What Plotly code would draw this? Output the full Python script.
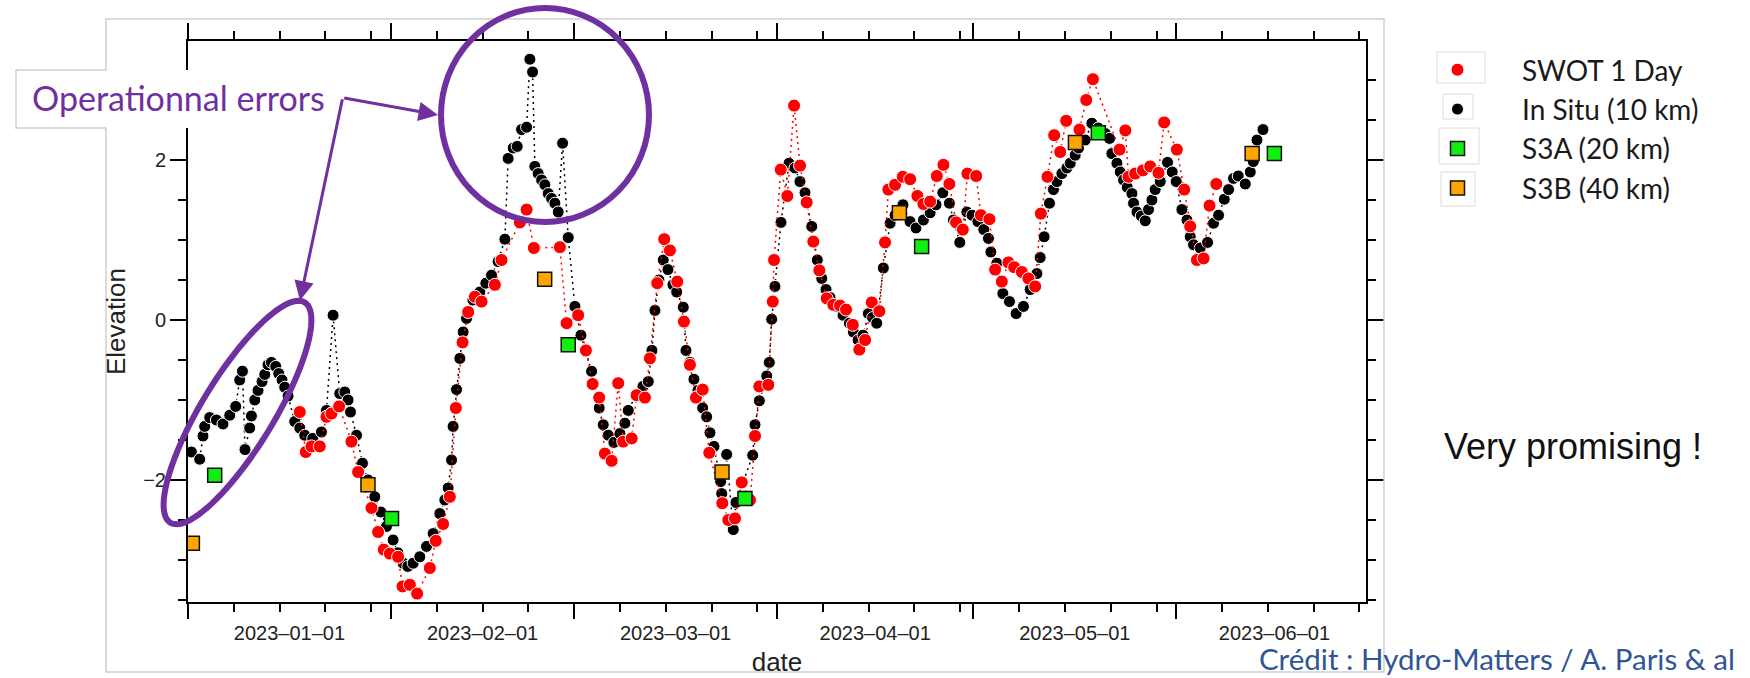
import numpy as np
import pandas as pd
import plotly.graph_objects as go

# ---------------- data (days since 2023-01-01, elevation) ----------------
insitu_day = [
    0.52, 1.79, 2.29, 2.55, 3.32, 4.34, 5.35, 6.38, 7.29, 7.90,
    8.32, 8.71, 9.43, 9.69, 10.20, 10.70, 11.31, 11.73, 12.23, 12.75,
    13.41, 13.87, 14.37, 14.78, 15.29, 16.31, 17.08, 17.84, 19.06, 20.39,
    21.16, 22.17, 23.19, 23.96, 24.46, 24.83, 25.75, 26.66, 27.52, 28.54,
    29.46, 30.33, 31.34, 32.06, 32.87, 33.59, 34.40, 35.42, 36.45, 37.46,
    38.48, 39.24, 39.75, 40.27, 40.51, 41.03, 41.54, 42.04, 42.56, 43.53,
    44.60, 45.51, 46.38, 47.39, 48.42, 48.92, 49.69, 50.30, 50.97, 51.74,
    52.24, 52.65, 53.00, 53.51, 54.03, 54.53, 55.04, 55.56, 56.06, 56.57,
    57.24, 58.10, 59.12, 60.04, 61.67, 62.83, 63.45, 64.21, 65.08, 66.00,
    66.76, 67.27, 68.45, 69.52, 70.33, 70.89, 71.35, 71.96, 72.62, 73.34,
    74.10, 74.67, 75.68, 76.09, 76.70, 77.31, 77.92, 78.64, 79.25, 79.76,
    80.37, 81.39, 81.55, 82.31, 83.32, 83.73, 86.29, 86.64, 87.30, 88.43,
    88.82, 89.19, 89.69, 90.61, 91.83, 92.75, 93.51, 94.28, 95.31, 96.16,
    96.84, 97.49, 98.10, 99.13, 100.09, 101.06, 101.67, 102.39, 103.15, 103.96,
    104.60, 105.24, 106.25, 107.28, 108.04, 109.25, 110.33, 111.24, 112.37, 113.40,
    114.30, 115.34, 116.34, 116.96, 117.93, 119.01, 119.80, 120.70, 121.60, 122.31,
    122.68, 123.59, 124.51, 125.52, 126.54, 127.66, 128.68, 129.71, 130.21, 130.82,
    131.63, 132.24, 132.76, 133.53, 134.29, 134.80, 135.56, 136.07, 137.09, 138.11,
    139.08, 140.15, 140.81, 141.17, 141.94, 142.44, 142.95, 143.52, 144.23, 144.48,
    145.00, 145.66, 146.27, 146.77, 147.29, 147.79, 148.56, 149.67, 150.39, 151.00,
    151.87, 152.64, 153.14, 153.65, 154.67, 155.79, 156.70, 157.47, 158.34, 159.00,
    159.76, 160.48, 161.55, 162.32, 162.78, 163.34, 164.26,
]
insitu_elev = [
    -1.65, -1.74, -1.45, -1.33, -1.22, -1.25, -1.30, -1.19, -1.08, -0.75,
    -0.64, -1.62, -1.35, -1.20, -1.00, -0.88, -0.77, -0.68, -0.56, -0.53,
    -0.58, -0.67, -0.75, -0.84, -0.95, -1.27, -1.35, -1.44, -1.48, -1.40,
    -1.13, 0.06, -0.92, -0.90, -1.00, -1.15, -1.44, -1.79, -2.00, -2.21,
    -2.40, -2.58, -2.75, -2.91, -3.04, -3.08, -3.04, -2.96, -2.83, -2.67,
    -2.42, -2.25, -2.10, -1.75, -1.33, -0.87, -0.48, -0.15, 0.02, 0.25,
    0.35, 0.46, 0.56, 0.73, 1.01, 2.02, 2.15, 2.17, 2.38, 2.41,
    3.26, 3.10, 1.92, 1.83, 1.75, 1.69, 1.58, 1.52, 1.46, 1.35,
    2.21, 1.03, 0.17, -0.19, -0.64, -1.10, -1.31, -1.44, -1.53, -1.42,
    -1.29, -1.13, -0.94, -0.83, -0.77, -0.38, 0.12, 0.50, 0.75, 0.63,
    0.44, 0.35, 0.16, -0.38, -0.53, -0.74, -0.88, -1.10, -1.21, -1.41,
    -1.58, -2.02, -2.17, -1.68, -2.62, -2.28, -1.69, -1.31, -1.01, -0.70,
    -0.53, 0.01, 0.42, 1.22, 1.96, 1.90, 1.73, 1.59, 1.17, 0.75,
    0.52, 0.38, 0.28, 0.17, 0.06, -0.04, -0.15, -0.25, -0.19, 0.08,
    0.03, -0.04, 0.65, 1.21, 1.31, 1.44, 1.23, 1.15, 1.25, 1.34,
    1.44, 1.59, 1.46, 1.25, 0.97, 1.35, 1.31, 1.23, 1.13, 1.02,
    0.85, 0.71, 0.33, 0.23, 0.08, 0.17, 0.38, 0.58, 0.78, 1.04,
    1.46, 1.63, 1.73, 1.83, 1.90, 1.96, 2.06, 2.15, 2.25, 2.46,
    2.40, 2.33, 2.27, 2.08, 1.96, 1.85, 1.75, 1.66, 1.58, 1.46,
    1.35, 1.30, 1.24, 1.38, 1.50, 1.63, 1.73, 1.97, 1.85, 1.73,
    1.38, 1.25, 1.04, 0.94, 0.90, 0.97, 1.21, 1.31, 1.51, 1.63,
    1.77, 1.80, 1.70, 1.85, 1.98, 2.25, 2.38,
]

swot_day = [
    17.08, 18.00, 18.87, 20.13, 21.16, 21.92, 23.09, 24.98, 25.99, 28.04,
    29.05, 29.92, 30.84, 32.10, 32.78, 33.90, 35.01, 36.95, 37.87, 38.98,
    40.01, 40.93, 41.95, 42.81, 43.83, 44.86, 46.89, 47.91, 50.71, 51.74,
    52.85, 56.83, 57.85, 59.62, 60.80, 61.82, 62.83, 63.70, 64.73, 65.74,
    66.50, 67.79, 68.55, 69.82, 70.58, 71.70, 72.77, 73.64, 74.76, 75.78,
    76.70, 77.62, 78.64, 79.65, 81.64, 82.56, 83.58, 84.61, 85.88, 86.64,
    87.30, 88.67, 89.35, 89.55, 90.57, 91.58, 92.61, 93.52, 94.54, 95.55,
    96.47, 97.60, 98.61, 99.63, 100.55, 101.58, 102.58, 103.46, 104.48, 105.64,
    106.51, 107.02, 108.04, 109.22, 110.34, 111.45, 112.37, 113.40, 114.42, 115.43,
    116.34, 117.37, 118.39, 119.10, 120.43, 121.15, 122.46, 123.33, 124.35, 125.36,
    126.24, 127.41, 128.42, 129.45, 130.32, 131.33, 132.35, 133.27, 134.19, 136.22,
    137.25, 138.27, 142.34, 143.23, 143.71, 144.73, 145.91, 147.02, 148.29, 149.16,
    151.10, 152.22, 153.14, 154.17, 155.18, 156.09, 157.12,
]
swot_elev = [
    -1.15, -1.65, -1.58, -1.58, -1.21, -1.17, -1.08, -1.52, -1.90, -2.35,
    -2.65, -2.87, -2.92, -2.96, -3.33, -3.31, -3.42, -3.10, -2.76, -2.55,
    -2.21, -1.10, -0.28, 0.10, 0.29, 0.23, 0.44, 0.75, 1.22, 1.38,
    0.90, 0.91, -0.04, 0.06, -0.38, -0.80, -0.97, -1.67, -1.76, -0.79,
    -1.52, -1.48, -0.94, -0.97, -0.48, 0.46, 1.01, 0.87, 0.48, -0.02,
    -0.56, -0.97, -0.87, -1.66, -2.29, -2.50, -2.48, -2.03, -2.25, -1.45,
    -0.83, -0.81, 0.23, 0.75, 1.88, 1.55, 2.68, 1.93, 1.47, 0.98,
    0.62, 0.27, 0.19, 0.18, 0.13, -0.06, -0.37, -0.25, 0.22, 0.11,
    0.97, 1.63, 1.69, 1.79, 1.76, 1.55, 1.45, 1.48, 1.80, 1.94,
    1.70, 1.22, 1.13, 1.83, 1.80, 1.31, 1.26, 0.63, 0.48, 0.72,
    0.66, 0.60, 0.52, 0.42, 1.33, 1.79, 2.31, 2.10, 2.49, 2.38,
    2.75, 3.01, 2.13, 2.37, 1.79, 1.83, 1.87, 1.92, 1.84, 2.47,
    2.13, 1.63, 1.17, 0.75, 0.77, 1.43, 1.70,
]

s3a_day = [4.08, 31.1, 58.1, 85.1, 112.1, 139.1, 166.0]
s3a_elev = [-1.94, -2.48, -0.31, -2.23, 0.92, 2.34, 2.08]

s3b_day = [0.67, 27.5, 54.5, 81.6, 108.7, 135.6, 162.6]
s3b_elev = [-2.79, -2.06, 0.51, -1.90, 1.34, 2.22, 2.08]

tick_labels = ["2023–01–01", "2023–02–01", "2023–03–01",
               "2023–04–01", "2023–05–01", "2023–06–01"]

# ---------------- helpers ----------------
START = pd.Timestamp("2023-01-01")


def to_dates(days):
    return [START + pd.Timedelta(days=float(d)) for d in days]


W, H = 1750, 678
PL, PR, PT, PB = 188, 1366, 41, 602


def px(xp):
    return (xp - PL) / (PR - PL)


def py(yp):
    return (PB - yp) / (PB - PT)


X_RANGE = [START, pd.Timestamp("2023-06-30")]
Y_RANGE = [-3.525, 3.4875]

month_starts = list(pd.date_range("2023-01-01", "2023-07-01", freq="MS"))
mid_month = [month_starts[i] + (month_starts[i + 1] - month_starts[i]) / 2 for i in range(6)]
month_ticks = month_starts[:6]
weekly = []
for m in range(1, 7):
    for d in (8, 15, 22, 29):
        try:
            weekly.append(pd.Timestamp(2023, m, d))
        except ValueError:
            pass

PURPLE = "#7030A0"
DOT = "2px,4px"

fig = go.Figure()

# In situ
fig.add_trace(go.Scatter(x=to_dates(insitu_day), y=insitu_elev, mode="lines",
                         line=dict(color="black", width=1.5, dash=DOT),
                         showlegend=False, hoverinfo="skip"))
fig.add_trace(go.Scatter(x=to_dates(insitu_day), y=insitu_elev, mode="markers",
                         name="In Situ (10 km)", legendrank=2,
                         marker=dict(color="black", size=12, line=dict(color="white", width=1))))
# SWOT
fig.add_trace(go.Scatter(x=to_dates(swot_day), y=swot_elev, mode="lines",
                         line=dict(color="#ff0000", width=1.5, dash=DOT),
                         showlegend=False, hoverinfo="skip"))
fig.add_trace(go.Scatter(x=to_dates(swot_day), y=swot_elev, mode="markers",
                         name="SWOT 1 Day", legendrank=1,
                         marker=dict(color="#ff0000", size=13, line=dict(color="white", width=1))))
# S3A / S3B
fig.add_trace(go.Scatter(x=to_dates(s3a_day), y=s3a_elev, mode="markers",
                         name="S3A (20 km)", legendrank=3,
                         marker=dict(symbol="square", color="#11ee11", size=14,
                                     line=dict(color="#111", width=1.5))))
fig.add_trace(go.Scatter(x=to_dates(s3b_day), y=s3b_elev, mode="markers",
                         name="S3B (40 km)", legendrank=4,
                         marker=dict(symbol="square", color="#ffa500", size=14,
                                     line=dict(color="#111", width=1.5))))
# empty traces to register the mirror axes
fig.add_trace(go.Scatter(x=[], y=[], xaxis="x2", yaxis="y", showlegend=False))
fig.add_trace(go.Scatter(x=[], y=[], xaxis="x3", yaxis="y2", showlegend=False))

axis_common = dict(showgrid=False, zeroline=False, linecolor="black", linewidth=2)

fig.update_layout(
    width=W, height=H,
    paper_bgcolor="white", plot_bgcolor="white",
    margin=dict(l=PL, r=W - PR, t=PT, b=H - PB, autoexpand=False),
    font=dict(family="Liberation Sans, Arial, sans-serif", color="#222"),
    showlegend=True,
    xaxis=dict(type="date", range=X_RANGE, tickmode="array", tickvals=mid_month,
               ticktext=tick_labels, ticks="outside", ticklen=12,
               tickcolor="rgba(0,0,0,0)", tickfont=dict(size=20, color="#222"),
               showline=True, automargin=False,
               minor=dict(tickmode="array", tickvals=weekly, ticks="outside",
                          ticklen=8, tickwidth=1.5, tickcolor="black", showgrid=False),
               title=dict(text="date", font=dict(size=26, color="#222"), standoff=10),
               **axis_common),
    xaxis2=dict(type="date", overlaying="x", anchor="y", side="bottom", range=X_RANGE,
                tickmode="array", tickvals=month_ticks, ticks="outside", ticklen=16,
                tickwidth=2, tickcolor="black", showticklabels=False, showline=False,
                showgrid=False, zeroline=False),
    xaxis3=dict(type="date", overlaying="x", anchor="y2", side="top", range=X_RANGE,
                tickmode="array", tickvals=month_ticks, ticks="outside", ticklen=16,
                tickwidth=2, tickcolor="black", showticklabels=False, showline=True,
                minor=dict(tickmode="array", tickvals=weekly, ticks="outside",
                           ticklen=8, tickwidth=1.5, tickcolor="black", showgrid=False),
                **axis_common),
    yaxis=dict(range=Y_RANGE, tickmode="array", tickvals=[-2, 0, 2], ticks="outside",
               ticklen=16, tickwidth=2, tickcolor="black",
               tickfont=dict(size=20, color="#222"), showline=True, automargin=False,
               minor=dict(dtick=0.5, tick0=0, ticks="outside", ticklen=8,
                          tickwidth=1.5, tickcolor="black", showgrid=False),
               title=dict(text="Elevation", font=dict(size=26, color="#222"), standoff=10),
               **axis_common),
    yaxis2=dict(overlaying="y", anchor="x", side="right", range=Y_RANGE,
                tickmode="array", tickvals=[-2, 0, 2], ticks="outside", ticklen=16,
                tickwidth=2, tickcolor="black", showticklabels=False, showline=True,
                minor=dict(dtick=0.5, tick0=0, ticks="outside", ticklen=8,
                           tickwidth=1.5, tickcolor="black", showgrid=False),
                **axis_common),
    legend=dict(x=px(1393), y=py(45), xanchor="left", yanchor="top",
                font=dict(family="Lato, Liberation Sans, sans-serif", size=28, color="#1a1a1a"),
                bgcolor="rgba(0,0,0,0)", itemwidth=119, itemsizing="trace"),
)

# --------- decorations ---------
# tilted ellipse path
cx, cy, a, b, th = 237.5, 412.5, 129.0, 36.0, np.deg2rad(58.6)
pts = []
for t in np.linspace(0, 2 * np.pi, 97):
    X = cx + a * np.cos(t) * np.cos(th) - b * np.sin(t) * np.sin(th)
    Y = cy - (a * np.cos(t) * np.sin(th) + b * np.sin(t) * np.cos(th))
    pts.append((px(X), py(Y)))
ell_path = "M " + " L ".join(f"{x:.5f},{y:.5f}" for x, y in pts) + " Z"

border = [(106, 19), (1384, 19), (1384, 672), (106, 672), (106, 128),
          (16, 128), (16, 70), (106, 70)]
border_path = "M " + " L ".join(f"{px(x):.5f},{py(y):.5f}" for x, y in border) + " Z"

fig.add_shape(type="rect", xref="paper", yref="paper", x0=px(16), x1=px(335),
              y0=py(128), y1=py(70), fillcolor="white", line=dict(width=0), layer="above")
fig.add_shape(type="path", xref="paper", yref="paper", path=border_path,
              line=dict(color="#cfcfcf", width=1.5), layer="above")
fig.add_shape(type="circle", xref="paper", yref="paper", x0=px(441), x1=px(649),
              y0=py(222), y1=py(8), line=dict(color=PURPLE, width=6), layer="above")
fig.add_shape(type="path", xref="paper", yref="paper", path=ell_path,
              line=dict(color=PURPLE, width=6), layer="above")

# light frames around the legend symbols
for (x0, y0, x1, y1) in [(1437, 52, 1485, 83), (1443, 94, 1473, 119),
                         (1439, 128, 1479, 164), (1441, 172, 1475, 206)]:
    fig.add_shape(type="rect", xref="paper", yref="paper", x0=px(x0), x1=px(x1),
                  y0=py(y1), y1=py(y0), line=dict(color="#dcdcdc", width=1),
                  fillcolor="rgba(0,0,0,0)", layer="above")

# arrows
tail = (342.7, 97.7)
for head in [(438.0, 115.0), (300.0, 300.5)]:
    fig.add_annotation(x=px(head[0]), y=py(head[1]), xref="paper", yref="paper",
                       ax=tail[0] - head[0], ay=tail[1] - head[1],
                       axref="pixel", ayref="pixel", text="", showarrow=True,
                       arrowhead=2, arrowsize=1.3, arrowwidth=3, arrowcolor=PURPLE,
                       standoff=0, startstandoff=0)

fig.add_annotation(x=px(178.5), y=py(97), xref="paper", yref="paper",
                   text="Operationnal errors", showarrow=False, xanchor="center",
                   yanchor="middle",
                   font=dict(family="Lato, sans-serif", size=34, color=PURPLE))
fig.add_annotation(x=px(1573), y=py(447), xref="paper", yref="paper",
                   text="Very promising !", showarrow=False, xanchor="center",
                   yanchor="middle",
                   font=dict(family="Liberation Sans, Arial, sans-serif", size=36, color="#111"))
fig.add_annotation(x=px(1497), y=py(658), xref="paper", yref="paper",
                   text="Crédit : Hydro-Matters / A. Paris & al", showarrow=False,
                   xanchor="center", yanchor="middle",
                   font=dict(family="Lato, sans-serif", size=29.5, color="#2F5597"))

fig.write_html("out.html", post_script="document.body.style.margin='0';",
               config={"displayModeBar": False})
